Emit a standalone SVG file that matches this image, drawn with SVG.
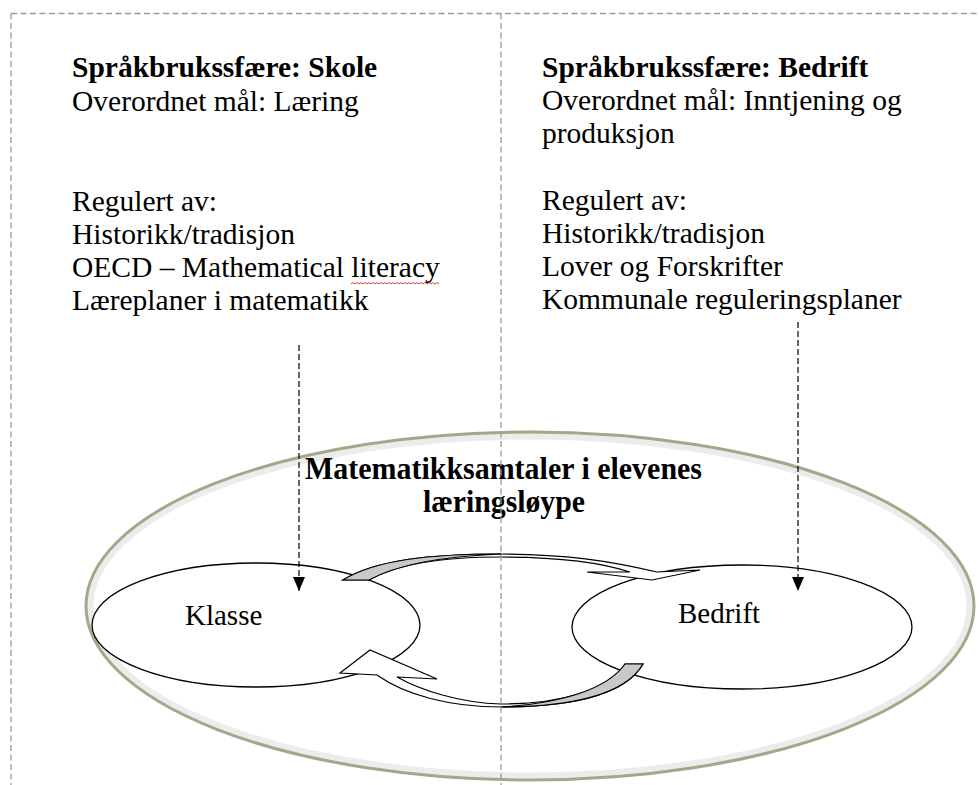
<svg xmlns="http://www.w3.org/2000/svg" width="979" height="785" viewBox="0 0 979 785">
<defs>
<style>
.t{font-family:"Liberation Serif","Times New Roman",serif;font-size:29.5px;fill:#000}
.b{font-weight:bold}
.c{font-family:"Liberation Serif","Times New Roman",serif;font-size:29px;fill:#000}
.h{font-family:"Liberation Serif","Times New Roman",serif;font-size:31px;font-weight:bold;fill:#000}
.frame{stroke:#9a9a9a;stroke-width:1.3;stroke-dasharray:6 3.5;fill:none}
.dash{stroke:#000;stroke-width:1.2;stroke-dasharray:6 3;fill:none}
.ell{fill:#fff;stroke:#000;stroke-width:1.3}
.band{fill:#fff;stroke:#000;stroke-width:1.2;stroke-linejoin:miter}
.shade{fill:#c9c9c9;stroke:#000;stroke-width:1.2}
</style>
<marker id="ah" viewBox="0 0 14 12" refX="14" refY="6" markerWidth="14" markerHeight="12" markerUnits="userSpaceOnUse" orient="auto">
<path d="M0,0 L14,6 L0,12 Z" fill="#000"/>
</marker>
</defs>
<rect width="979" height="785" fill="#fff"/>

<g id="outer-loop">
<ellipse cx="530" cy="606" rx="440" ry="170" fill="none" stroke="#ececec" stroke-width="7"/>
<ellipse cx="530" cy="606" rx="444" ry="174" fill="none" stroke="#9cac89" stroke-width="3"/>
</g>

<g id="klasse">
<ellipse class="ell" cx="256" cy="625" rx="164" ry="62"/>
<text class="c" x="185" y="625">Klasse</text>
</g>

<g id="bedrift">
<ellipse class="ell" cx="742" cy="627" rx="170" ry="62"/>
<text class="c" x="678" y="623">Bedrift</text>
</g>

<g id="cycle-arrows">
<path class="band" d="M343,580 C375,560 430,554 501,554 C565,554 610,561 657,572 L700,570 L652,580 L587,572 L630,572 C600,562 560,557 501,557 C450,557 400,562 369,580 Z"/>
<path class="shade" d="M343,580 C375,560 430,554 501,554 C450,556 400,563 369,580 Z"/>
<path class="band" d="M643,664 C625,695 570,707 501,707 C450,707 405,695 377,675 L340,673 L370,650 L437,679 L397,677 C420,690 460,703 501,704 C560,704 610,690 625,664 Z"/>
<path class="shade" d="M643,664 C625,695 570,707 501,707 C565,703 608,688 625,664 Z"/>
</g>

<g id="title">
<text class="h" x="305" y="479" textLength="397" lengthAdjust="spacingAndGlyphs">Matematikksamtaler i elevenes</text>
<text class="h" x="423" y="512" textLength="162" lengthAdjust="spacingAndGlyphs">læringsløype</text>
</g>

<g id="skole">
<text class="t b" x="72" y="77">Språkbrukssfære: Skole</text>
<text class="t" x="72" y="111">Overordnet mål: Læring</text>
<text class="t" x="72" y="211">Regulert av:</text>
<text class="t" x="72" y="244">Historikk/tradisjon</text>
<text class="t" x="72" y="277">OECD – Mathematical literacy</text>
<text class="t" x="72" y="310">Læreplaner i matematikk</text>
<path d="M351,284 l2,-1.5 l2,1.5 l2,-1.5 l2,1.5 l2,-1.5 l2,1.5 l2,-1.5 l2,1.5 l2,-1.5 l2,1.5 l2,-1.5 l2,1.5 l2,-1.5 l2,1.5 l2,-1.5 l2,1.5 l2,-1.5 l2,1.5 l2,-1.5 l2,1.5 l2,-1.5 l2,1.5 l2,-1.5 l2,1.5 l2,-1.5 l2,1.5 l2,-1.5 l2,1.5 l2,-1.5 l2,1.5 l2,-1.5 l2,1.5 l2,-1.5 l2,1.5 l2,-1.5 l2,1.5 l2,-1.5 l2,1.5 l2,-1.5 l2,1.5 l2,-1.5 l2,1.5 l2,-1.5 l2,1.5" fill="none" stroke="#e03030" stroke-width="0.9"/>
</g>

<g id="bedrift-sfaere">
<text class="t b" x="542" y="77">Språkbrukssfære: Bedrift</text>
<text class="t" x="542" y="110">Overordnet mål: Inntjening og</text>
<text class="t" x="542" y="143">produksjon</text>
<text class="t" x="542" y="210">Regulert av:</text>
<text class="t" x="542" y="243">Historikk/tradisjon</text>
<text class="t" x="542" y="276">Lover og Forskrifter</text>
<text class="t" x="542" y="309">Kommunale reguleringsplaner</text>
</g>

<g id="connectors">
<path class="frame" d="M11,13.5 H979 M11,13.5 V785 M501,13.5 V785"/>
<line class="dash" x1="299" y1="345" x2="299" y2="591" marker-end="url(#ah)"/>
<line class="dash" x1="798" y1="322" x2="798" y2="591" marker-end="url(#ah)"/>
</g>
</svg>
